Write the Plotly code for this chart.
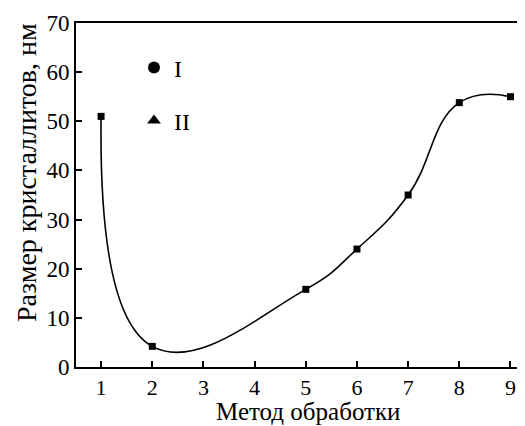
import plotly.graph_objects as go

methods = [1, 2, 5, 6, 7, 8, 9]
sizes = [51, 4.2, 15.8, 24.0, 35.0, 53.8, 55.0]
x_ticks = [1, 2, 3, 4, 5, 6, 7, 8, 9]
y_ticks = [0, 10, 20, 30, 40, 50, 60, 70]

FONT = "Liberation Serif, Times New Roman, Times, serif"
W, H = 525, 426
# page body has an 8px margin, so figure coords = page coords - 8
L, R, T, B = 68, 0, 15, 67
PH = H - T - B
PW = W - L - R


def px(xf):
    return (xf - L) / PW


def py(yf):
    return (H - B - yf) / PH


fig = go.Figure()
fig.add_trace(go.Scatter(
    x=methods, y=sizes, mode="lines+markers",
    line=dict(color="black", width=1.6, shape="spline", smoothing=1.3),
    marker=dict(symbol="square", size=7, color="black"),
    showlegend=False,
))
fig.add_trace(go.Scatter(
    x=[None], y=[None], mode="markers", name="I",
    marker=dict(symbol="circle", size=12, color="black"), legend="legend",
))
fig.add_trace(go.Scatter(
    x=[None], y=[None], mode="markers", name="II",
    marker=dict(symbol="triangle-up", size=12, color="black"), legend="legend2",
))

axis_common = dict(
    showgrid=False, zeroline=False, showline=True, linecolor="black", linewidth=2,
    ticks="inside", ticklen=6, tickwidth=1.5, tickcolor="black", automargin=False,
)

fig.update_layout(
    width=W, height=H,
    margin=dict(l=L, r=R, t=T, b=B),
    plot_bgcolor="white", paper_bgcolor="white",
    font=dict(family=FONT, color="black"),
    xaxis=dict(range=[0.51, 9.44], tickvals=x_ticks, mirror=True,
               tickfont=dict(family=FONT, size=22, color="black"), **axis_common),
    yaxis=dict(range=[0, 70], tickvals=y_ticks,
               tickfont=dict(family=FONT, size=23, color="black"), **axis_common),
    legend=dict(x=px(126), y=py(60), xanchor="left", yanchor="middle",
                bgcolor="rgba(0,0,0,0)", font=dict(family=FONT, size=24)),
    legend2=dict(x=px(126), y=py(113), xanchor="left", yanchor="middle",
                 bgcolor="rgba(0,0,0,0)", font=dict(family=FONT, size=24)),
    annotations=[
        dict(text="Метод обработки", xref="paper", yref="paper",
             x=px(300), y=py(403), xanchor="center", yanchor="middle",
             showarrow=False, font=dict(family=FONT, size=25)),
        dict(text="Размер кристаллитов, нм", xref="paper", yref="paper",
             x=px(18), y=py(165), xanchor="center", yanchor="middle",
             textangle=-90, showarrow=False, font=dict(family=FONT, size=28)),
    ],
)

fig.write_html("out.html")
